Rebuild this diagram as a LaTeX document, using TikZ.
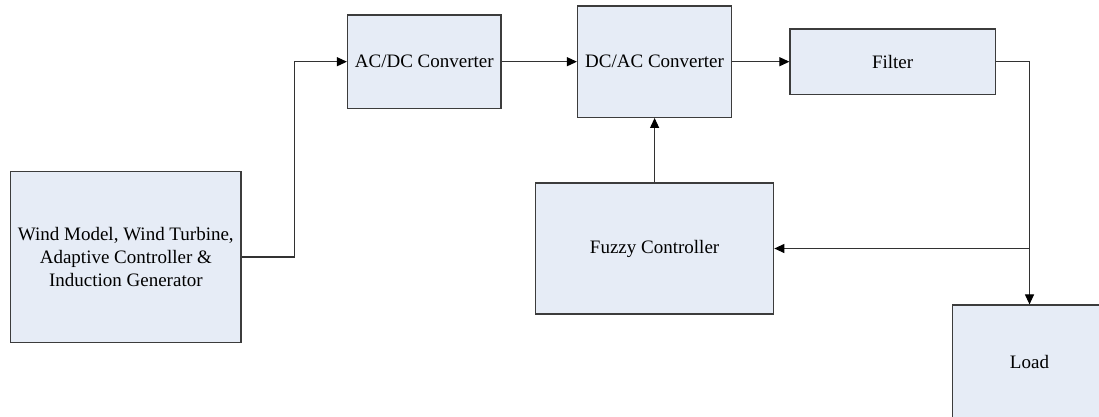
\documentclass[tikz,border=0pt]{standalone}
\usepackage{fontspec}
\setmainfont{Liberation Serif}
\usetikzlibrary{arrows.meta}
\definecolor{boxfill}{RGB}{230,236,246}
\definecolor{boxline}{RGB}{60,60,60}
\definecolor{wire}{RGB}{50,50,50}
\begin{document}
\begin{tikzpicture}[x=1pt,y=-1pt,
  blk/.style={draw=boxline,fill=boxfill,line width=1.2pt,rectangle,inner sep=0pt,
    align=center,font=\fontsize{19pt}{22.8pt}\selectfont},
  conn/.style={draw=wire,line width=1.1pt},
  arr/.style={conn,-{Triangle[length=10pt,width=9pt,fill=black,color=black]}}]
\useasboundingbox (0,0) rectangle (1099,416);
\clip (0,0) rectangle (1099,416);
\fill[white] (0,0) rectangle (1099,416);
\node[blk,minimum width=230.3pt,minimum height=170.6pt] (wind) at (125.85,257)
  {Wind Model, Wind Turbine,\\Adaptive Controller \&\\Induction Generator};
\node[blk,minimum width=153.5pt,minimum height=93.5pt] (acdc) at (424.25,61.7) {AC/DC Converter};
\node[blk,minimum width=154.2pt,minimum height=111.3pt] (dcac) at (654.6,61.7) {DC/AC Converter};
\node[blk,minimum width=205.3pt,minimum height=65.3pt] (filter) at (892.65,61.7) {Filter};
\node[blk,minimum width=238.3pt,minimum height=131pt] (fuzzy) at (654.6,248.5) {Fuzzy Controller};
\node[blk,minimum width=154pt,minimum height=114pt] (load) at (1029.5,362) {Load};
\coordinate (j1) at (294.5,257);
\coordinate (j2) at (1029.5,61.7);
\coordinate (j3) at (1029.5,248.5);
\draw[arr] (wind.east) -- (j1) |- (acdc.west);
\draw[arr] (acdc.east) -- (dcac.west);
\draw[arr] (dcac.east) -- (filter.west);
\draw[conn] (filter.east) -- (j2) -- (j3);
\draw[arr] (j3) -- (load.north);
\draw[arr] (j3) -- (fuzzy.east);
\draw[arr] (fuzzy.north) -- (dcac.south);
\end{tikzpicture}
\end{document}
